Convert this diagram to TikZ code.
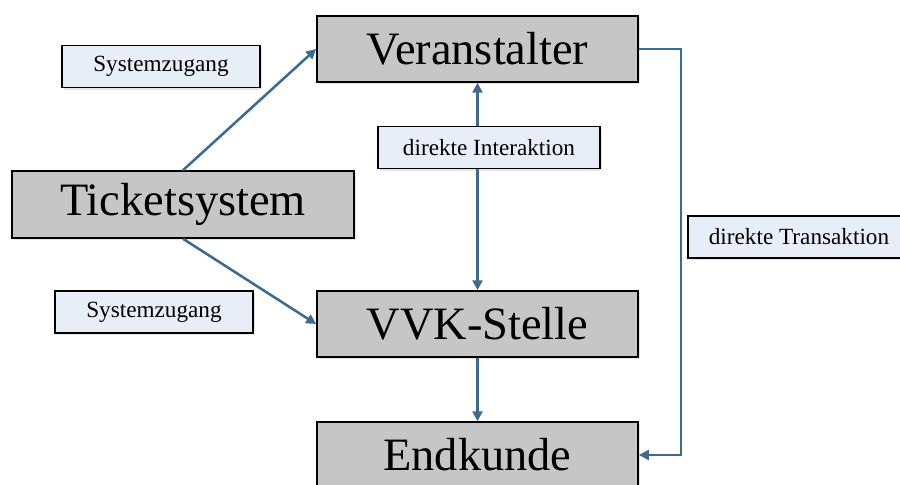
\documentclass[tikz,border=0pt]{standalone}
\usepackage{fontspec}
\setmainfont{Liberation Serif}
\usepackage{tikz}
\usetikzlibrary{arrows.meta,shadows}
\definecolor{linkblue}{HTML}{3D6A91}
\definecolor{boxgrey}{HTML}{C6C6C6}
\definecolor{tagfill}{HTML}{E8EEF7}
\tikzset{
  mainbox/.style={draw=black, line width=1.1pt, fill=boxgrey, minimum width=8.03cm, minimum height=1.65cm,
    font=\fontsize{33}{38}\selectfont, drop shadow={shadow xshift=1.5pt, shadow yshift=-1.5pt, opacity=0.2}},
  tagbox/.style={draw=black, line width=0.9pt, fill=tagfill, minimum height=1.05cm,
    font=\fontsize{16.5}{19}\selectfont, drop shadow={shadow xshift=1.5pt, shadow yshift=-1.5pt, opacity=0.2}},
  link/.style={draw=linkblue, line width=1.8pt, -{Triangle[width=7pt,length=7pt]}}
}
\begin{document}
\begin{tikzpicture}[x=0.025cm, y=-0.025cm]
        \useasboundingbox (0,0) rectangle (900,485);
        \node (vera) at (477.5,49) [mainbox] {Veranstalter};
        \node (tick) at (183,204.5) [mainbox, minimum width=8.55cm, minimum height=1.675cm] {Ticketsystem};
        \node (vvk) at (477.5,324) [mainbox] {VVK-Stelle};
        \node (endk) at (477.5,455) [mainbox] {Endkunde};

        \draw[link] (tick.north) -- (vera.west);
        \draw[link] (tick.south) -- (vvk.west);
        \draw[link, {Triangle[width=7pt,length=7pt]}-{Triangle[width=7pt,length=7pt]}] (vera.south) -- (vvk.north);
        \draw[link] (vvk.south) -- (endk.north);
        \draw[link] (vera.east) -- ++(42,0) |- (endk.east);

        \node (zug1) at (161,66.5) [tagbox, minimum width=4.95cm] {Systemzugang};
        \node (inter) at (489,147.5) [tagbox, minimum width=5.55cm] {direkte Interaktion};
        \node (trans) at (799,237) [tagbox, minimum width=5.55cm] {direkte Transaktion};
        \node (zug2) at (154,312) [tagbox, minimum width=4.95cm] {Systemzugang};
    \end{tikzpicture}
\end{document}
